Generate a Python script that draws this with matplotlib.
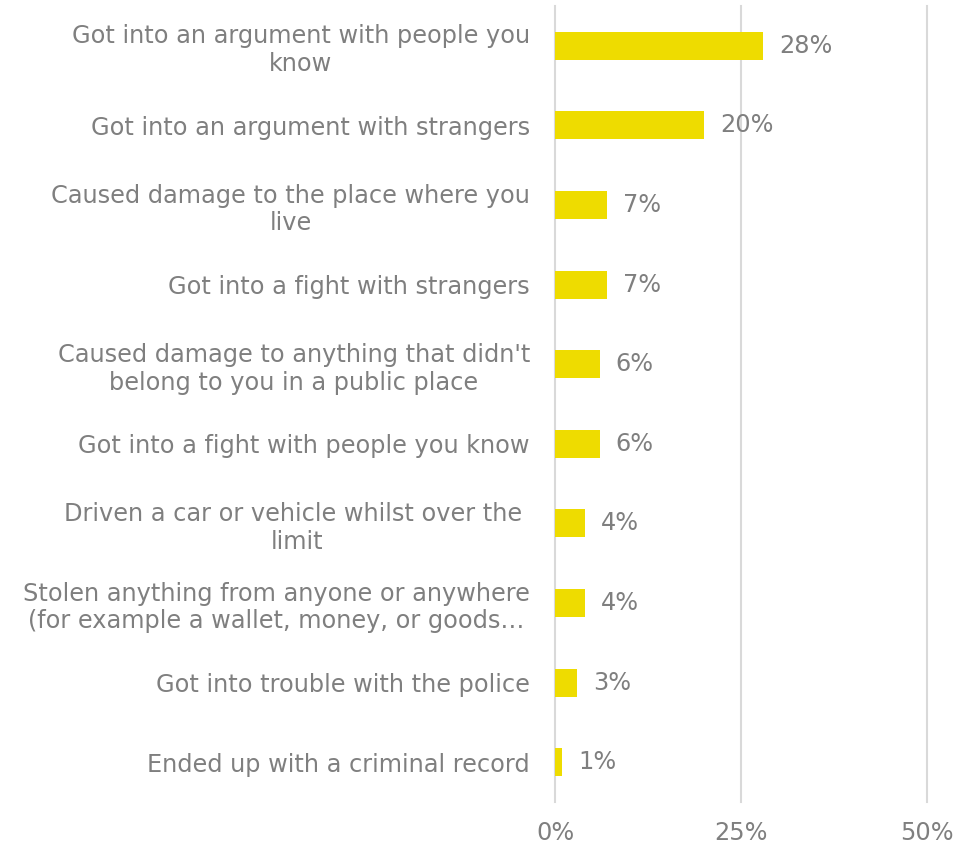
import matplotlib.pyplot as plt
from matplotlib.ticker import FuncFormatter

LABELS = [
    "Got into an argument with people you\nknow",
    "Got into an argument with strangers",
    "Caused damage to the place where you\nlive",
    "Got into a fight with strangers",
    "Caused damage to anything that didn't\nbelong to you in a public place",
    "Got into a fight with people you know",
    "Driven a car or vehicle whilst over the \nlimit",
    "Stolen anything from anyone or anywhere\n(for example a wallet, money, or goods\u2026",
    "Got into trouble with the police",
    "Ended up with a criminal record",
]
VALUES = [28, 20, 7, 7, 6, 6, 4, 4, 3, 1]
X_TICKS = [0, 25, 50]

TEXT = "#7f7f7f"
BAR = "#eedc00"
GRID = "#d9d9d9"
FS = 17.3

plt.rcParams['font.family'] = ['DejaVu Sans']

fig = plt.figure(figsize=(9.73, 8.46), dpi=100)
ax = fig.add_axes([555 / 973, 44 / 846, 372 / 973, 796 / 846])

pos = list(range(len(LABELS)))
ax.barh(pos, VALUES, height=0.35, color=BAR, zorder=3)
ax.set_ylim(len(LABELS) - 0.5, -0.5)
ax.set_xlim(0, 50)

for y, v in zip(pos, VALUES):
    ax.annotate(f"{v}%", (v, y), xytext=(11.5, 0), textcoords="offset points",
                va="center", ha="left", fontsize=FS, color=TEXT)

ax.set_yticks(pos)
ax.set_yticklabels(LABELS, fontsize=FS, color=TEXT, multialignment="center")
ax.set_xticks(X_TICKS)
ax.xaxis.set_major_formatter(FuncFormatter(lambda x, _: f"{x:.0f}%"))
ax.tick_params(axis="x", labelsize=FS, labelcolor=TEXT, length=0, pad=14)
ax.tick_params(axis="y", length=0, pad=18)

ax.grid(axis="x", color=GRID, linewidth=1.5, zorder=0)
for line in ax.get_xgridlines():
    line.set_clip_on(False)
for s in ax.spines.values():
    s.set_visible(False)

fig.savefig("out.png", dpi=100)
